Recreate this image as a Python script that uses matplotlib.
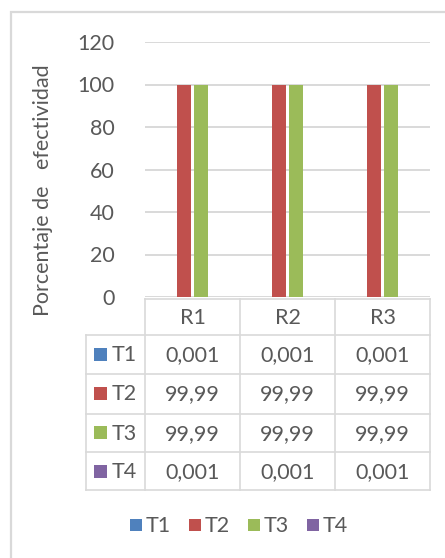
import numpy as np
import matplotlib.pyplot as plt
from matplotlib.patches import Rectangle

plt.rcParams['font.family'] = ['Lato', 'DejaVu Sans']

# data
replicas = ['R1', 'R2', 'R3']
series = ['T1', 'T2', 'T3', 'T4']
t1 = [0.001, 0.001, 0.001]
t2 = [99.99, 99.99, 99.99]
t3 = [99.99, 99.99, 99.99]
t4 = [0.001, 0.001, 0.001]
t1_txt = ['0,001', '0,001', '0,001']
t2_txt = ['99,99', '99,99', '99,99']
t3_txt = ['99,99', '99,99', '99,99']
t4_txt = ['0,001', '0,001', '0,001']
yticks = [0, 20, 40, 60, 80, 100, 120]

colors = ['#4f81bd', '#c0504d', '#9bbb59', '#8064a2']
txtc = '#595959'
gridc = '#d9d9d9'
fs = 15.5

W, H = 445, 558
fig = plt.figure(figsize=(W / 100, H / 100), dpi=100)
fig.patch.set_facecolor('white')

# plot area in pixels: x 145..430, y 42..297 (from top)
ax = fig.add_axes([145 / W, 1 - 297 / H, 285 / W, 255 / H])
x = np.arange(len(replicas))
vals = [t1, t2, t3, t4]
step = 0.184
bw = 0.142
for i, v in enumerate(vals):
    ax.bar(x + (i - 1.5) * step, v, width=bw, color=colors[i], zorder=3)

ax.set_xlim(-0.5, 2.5)
ax.set_ylim(0, 120)
ax.set_yticks(yticks)
ax.set_yticklabels([str(t) for t in yticks], fontsize=fs, color=txtc)
ax.tick_params(axis='y', length=0, pad=22)
ax.set_xticks([])
ax.grid(axis='y', color=gridc, lw=1.4, zorder=0)
for s in ax.spines.values():
    s.set_visible(False)

# overlay in pixel coordinates (origin top-left)
ov = fig.add_axes([0, 0, 1, 1], zorder=5)
ov.set_xlim(0, W)
ov.set_ylim(H, 0)
ov.axis('off')
ov.patch.set_alpha(0)

# outer frame (left and top)
ov.plot([11, 11, W], [H, 12, 12], color=gridc, lw=1.6, solid_joinstyle='miter')

# y label
fig.text(43 / W, 1 - 190 / H, 'Porcentaje de   efectividad', rotation=90,
         ha='center', va='center', fontsize=fs, color=txtc)

# data table under the plot, columns follow the category positions
edges = []
for e in np.arange(-0.5, len(replicas), 1.0):
    px = ax.transData.transform((e, 0))[0]
    edges.append(px)
label_left = 86
row_y = [299, 335, 373.5, 413.5, 452, 490]
lw_t = 1.2
# header row lines
ov.plot([edges[0], edges[-1]], [row_y[0], row_y[0]], color=gridc, lw=lw_t)
for yy in row_y[1:]:
    ov.plot([label_left, edges[-1]], [yy, yy], color=gridc, lw=lw_t)
ov.plot([label_left, label_left], [row_y[1], row_y[-1]], color=gridc, lw=lw_t)
for e in edges:
    ov.plot([e, e], [row_y[0], row_y[-1]], color=gridc, lw=lw_t)

for j, r in enumerate(replicas):
    cx = (edges[j] + edges[j + 1]) / 2
    ov.text(cx, (row_y[0] + row_y[1]) / 2 + 1, r, ha='center', va='center',
            fontsize=fs, color=txtc)

texts = [t1_txt, t2_txt, t3_txt, t4_txt]
for i, name in enumerate(series):
    cy = (row_y[i + 1] + row_y[i + 2]) / 2
    ov.add_patch(Rectangle((94, cy - 6.5), 13, 13, color=colors[i], lw=0))
    ov.text(112, cy + 1, name, ha='left', va='center', fontsize=fs, color=txtc)
    for j in range(len(replicas)):
        cx = (edges[j] + edges[j + 1]) / 2
        ov.text(cx, cy + 1, texts[i][j], ha='center', va='center',
                fontsize=fs, color=txtc)

# legend
lx = [130, 189, 248, 307]
for i, name in enumerate(series):
    ov.add_patch(Rectangle((lx[i], 519), 12, 12, color=colors[i], lw=0))
    ov.text(lx[i] + 16, 526, name, ha='left', va='center', fontsize=fs, color=txtc)

fig.savefig('out.png', dpi=100, facecolor='white')
